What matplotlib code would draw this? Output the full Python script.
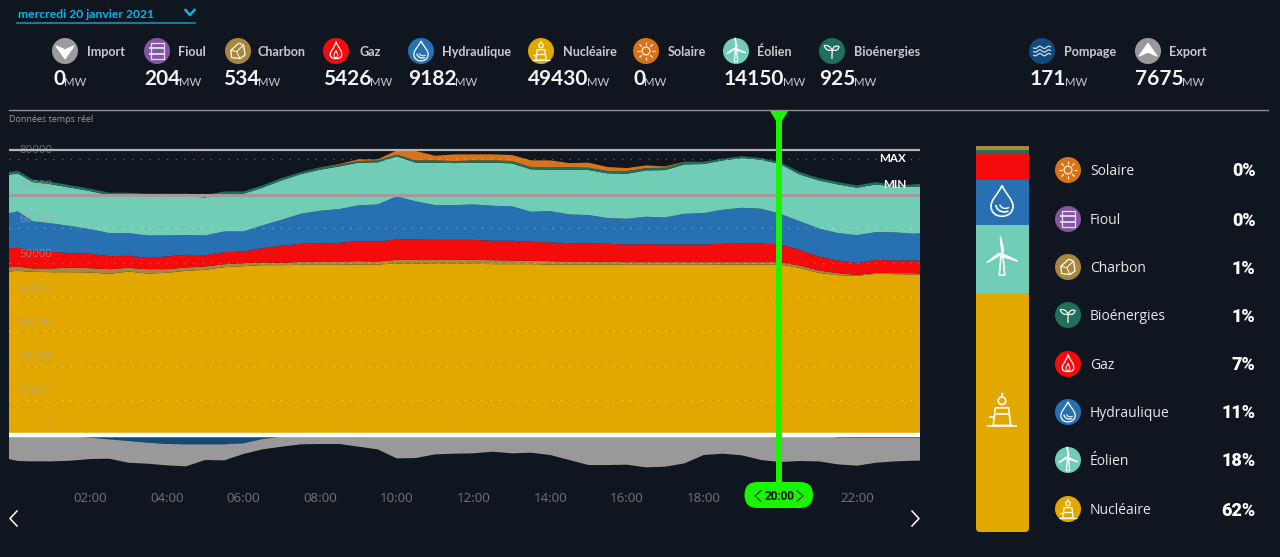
import numpy as np
import matplotlib
matplotlib.use("Agg")
import matplotlib.pyplot as plt
from matplotlib.patches import Circle, FancyBboxPatch, Polygon, PathPatch
from matplotlib.path import Path
from matplotlib.transforms import ScaledTranslation

hours = [-0.112, 0.12] + [0.5*k for k in range(1, 48)] + [23.643]

nuclear = [47380,47580,47290,47190,47190,47090,46710,47380,46800,47000,47580,47870,48640,48930,49230,49230,49320,49320,49320,49420,49420,49710,49710,49610,49610,
           49610,49520,49520,49520,49420,49420,49420,49420,49320,49320,49320,49320,49320,49420,49420,49420,49420,48450,47000,46320,46120,46710,46610,46510,46510]
charbon = [1260,1260,970,1070,1360,1260,1360,1070,1260,1070,970,970,870,870,780,680,870,970,970,970,870,1070,1160,1260,1260,
           1160,1160,1070,970,970,870,870,780,780,780,780,780,780,680,680,680,680,680,680,580,290,290,290,390,290]
gaz = [5430,5430,5240,4850,4170,4170,3780,3490,3300,3690,3690,3300,3490,3400,4170,4950,5240,5240,5430,5820,5820,5920,5820,5720,5720,
       5820,5630,5720,5530,5430,5340,5240,5240,5140,5240,5140,5140,5140,5340,5430,5430,5140,4560,4070,3690,3400,3780,3690,3690,3690]
hydraulique = [10280,10570,8540,8250,7860,7180,6690,6600,6500,6110,5720,5720,6010,5820,6600,7570,8730,9510,9800,10380,10770,12510,11060,10090,10090,
               10280,10190,9990,8730,9120,8340,8250,7470,7470,7950,7860,8920,9120,9890,10380,10090,8920,8340,8150,7950,8150,8050,8150,7760,8050]
eolien = [11160,11060,11350,11350,11160,11060,11060,10960,11160,11450,11350,11060,10960,10960,10960,11450,11540,11930,12420,12420,12220,11640,11250,12320,12220,
          12130,12510,12510,12320,12030,13000,13100,13000,13100,13480,13770,14360,14260,14360,14450,14260,14450,13580,13970,14160,13770,13870,13190,13680,13580]
bioenergies = [780,780,680,680,680,680,680,780,970,680,680,680,680,680,680,680,580,580,490,490,580,490,680,680,580,
               680,680,680,680,680,770,680,680,770,680,680,680,680,490,580,490,580,680,680,680,680,680,490,680,780]
solaire = [0,0,0,0,0,0,0,0,0,0,0,0,0,0,0,0,0,100,190,490,290,1260,2720,1360,1940,
           1750,1750,1750,1940,2040,1160,1460,1160,870,780,390,100,0,0,0,0,0,0,0,0,0,0,0,0,0]
pompage = [0,0,0,0,440,920,1410,1890,2380,2760,2860,2860,2860,2570,1310,630,0,0,0,0,0,0,0,0,0,
           0,0,0,0,0,0,0,0,0,0,0,0,0,0,0,0,0,0,0,900,1000,1000,1000,1000,1000]
export = [7130,7710,7810,7810,7170,6210,5620,6310,6110,6210,6400,4560,4660,3100,3010,2910,2860,2760,2760,3540,4320,6940,6840,5770,5580,
          5480,5000,5480,5290,5970,7420,8880,8880,8780,9550,9360,8390,5970,5580,6060,7420,8000,7710,7810,7780,8070,7200,6810,6610,6610]

y_ticks = [0,10000,20000,30000,40000,50000,60000,70000,80000]
x_ticks = [2,4,6,8,10,12,14,16,18,22]
x_labels = ["02:00","04:00","06:00","08:00","10:00","12:00","14:00","16:00","18:00","22:00"]
max_level, min_level = 82700, 69700

head_names = ["Import","Fioul","Charbon","Gaz","Hydraulique","Nucléaire","Solaire","Éolien","Bioénergies","Pompage","Export"]
head_values = [0,204,534,5426,9182,49430,0,14150,925,171,7675]
legend_names = ["Solaire","Fioul","Charbon","Bioénergies","Gaz","Hydraulique","Éolien","Nucléaire"]
legend_pcts = ["0%","0%","1%","1%","7%","11%","18%","62%"]

BG = "#10161f"
C = dict(Import="#9b9b9b", Fioul="#8356a2", Charbon="#a8873c", Gaz="#f40b0b", Hydraulique="#2771b3",
         Nucléaire="#e3a800", Solaire="#d9731a", Éolien="#72cdb7", Bioénergies="#1f6f5b",
         Pompage="#114a7b", Export="#999999")
KIND = dict(Import="down", Fioul="barrel", Charbon="rock", Gaz="flame", Hydraulique="drop", Nucléaire="nuke",
            Solaire="sun", Éolien="turbine", Bioénergies="leaf", Pompage="waves", Export="up")

W, H = 1280, 557
fig = plt.figure(figsize=(W/100, H/100), dpi=100, facecolor=BG)
plt.rcParams["font.family"] = ["Open Sans", "DejaVu Sans"]

# main chart
top, bottom = 140, 478
ax = fig.add_axes([9/W, 1-bottom/H, 911/W, (bottom-top)/H], facecolor=BG)
ax.set_xlim(hours[0], hours[-1])
k = 290.7
ax.set_ylim((434.5-bottom)*k, (434.5-top)*k)
ax.stackplot(hours, nuclear, charbon, gaz, hydraulique, eolien, bioenergies, solaire,
             colors=[C["Nucléaire"],C["Charbon"],C["Gaz"],C["Hydraulique"],C["Éolien"],C["Bioénergies"],C["Solaire"]], linewidth=0)
ax.stackplot(hours, -np.array(pompage), -np.array(export), colors=[C["Pompage"],C["Export"]], linewidth=0)
for s in ax.spines.values():
    s.set_visible(False)
ax.set_axisbelow(False)
ax.set_yticks(y_ticks)
ax.set_yticklabels([str(v) for v in y_ticks], color="#a8a8a8", alpha=0.6, fontsize=8.2, va="bottom")
ax.tick_params(axis="y", length=0, pad=-31)
shift = ScaledTranslation(0, 0.03, fig.dpi_scale_trans)
for lab in ax.get_yticklabels():
    lab.set_transform(lab.get_transform() + shift)
ax.set_xticks(x_ticks)
ax.set_xticklabels(x_labels, color="#70757a", fontsize=9.6)
ax.tick_params(axis="x", length=0, pad=10)
ax.grid(axis="y", color="white", alpha=0.35, linewidth=0.9, linestyle=(0, (1, 6)))
ax.axhline(max_level, color="#b4b4b4", lw=1.6, zorder=4)
ax.axhline(min_level, color="#a39a9c", lw=2.2, zorder=4)
ax.axhline(0, color="white", lw=3.2, zorder=4)

# overlay in pixel coordinates
ov = fig.add_axes([0, 0, 1, 1], facecolor="none", zorder=10)
ov.set_xlim(0, W); ov.set_ylim(H, 0); ov.axis("off")

def curve(cx, cy, pts, s, lw=1.0, closed=False, color="white", fill=False):
    xy = [(cx+p[0]*s, cy+p[1]*s) for p in pts]
    ov.add_patch(Polygon(xy, closed=closed, fill=fill, facecolor=color if fill else "none",
                         edgecolor=color, lw=lw, joinstyle="round", zorder=6))

def bez(cx, cy, verts, codes, s, lw=1.0):
    v = [(cx+p[0]*s, cy+p[1]*s) for p in verts]
    ov.add_patch(PathPatch(Path(v, codes), fill=False, edgecolor="white", lw=lw, zorder=6))

M, C4, L = Path.MOVETO, Path.CURVE4, Path.LINETO

def glyph(cx, cy, kind, s, lw=1.0):
    if kind == "down":
        curve(cx, cy, [(-.68,-.38),(0,-.08),(.68,-.38),(0,.58)], s, closed=True, fill=True)
    elif kind == "up":
        curve(cx, cy, [(-.68,.38),(0,.08),(.68,.38),(0,-.58)], s, closed=True, fill=True)
    elif kind == "barrel":
        curve(cx, cy, [(-.5,-.62),(.5,-.62),(.5,.62),(-.5,.62)], s, lw=lw, closed=True, color="#e8dff0")
        for yy in (-.22, .22):
            curve(cx, cy, [(-.62,yy),(.62,yy)], s, lw=lw+.4, color="#e8dff0")
    elif kind == "rock":
        curve(cx, cy, [(-.55,-.05),(.05,-.6),(.42,-.45),(.55,.3),(.15,.58),(-.5,.5)], s, lw=lw, closed=True)
        curve(cx, cy, [(-.55,-.05),(-.1,.05),(.42,-.45)], s, lw=lw*.8)
        curve(cx, cy, [(-.1,.05),(.15,.58)], s, lw=lw*.8)
    elif kind == "flame":
        bez(cx, cy, [(0,-.72),(.15,-.25),(.55,0),(.42,.4),(.33,.65),(-.33,.65),(-.42,.4),(-.55,.05),(-.1,-.2),(0,-.72)],
            [M,C4,C4,C4,C4,C4,C4,C4,C4,C4], s, lw)
        bez(cx, cy, [(0,-.05),(.05,.15),(.2,.25),(.12,.42),(.05,.55),(-.12,.52),(-.15,.38),(-.2,.2),(-.03,.1),(0,-.05)],
            [M,C4,C4,C4,C4,C4,C4,C4,C4,C4], s, lw*.8)
    elif kind == "drop":
        bez(cx, cy, [(0,-.78),(.18,-.35),(.58,-.05),(.55,.3),(.5,.92),(-.5,.92),(-.55,.3),(-.58,-.05),(-.18,-.35),(0,-.78)],
            [M,C4,C4,C4,C4,C4,C4,C4,C4,C4], s, lw)
        bez(cx, cy, [(-.32,.2),(-.25,.5),(.05,.62),(.32,.5)], [M,C4,C4,C4], s, lw)
        bez(cx, cy, [(-.12,.18),(-.02,.38),(.15,.42),(.36,.32)], [M,C4,C4,C4], s, lw*.8)
    elif kind == "nuke":
        curve(cx, cy, [(-.3,-.1),(.3,-.1),(.4,.7),(-.4,.7)], s, lw=lw, closed=True)
        curve(cx, cy, [(-.6,.3),(-.3,.3)], s, lw=lw)
        curve(cx, cy, [(-.7,.72),(.7,.72)], s, lw=lw)
        curve(cx, cy, [(-.28,.2),(.32,.2)], s, lw=lw)
        ov.add_patch(Circle((cx, cy-.42*s), .17*s, fill=False, edgecolor="white", lw=lw, zorder=6))
        curve(cx, cy, [(0,-.59),(.02,-.78)], s, lw=lw)
    elif kind == "sun":
        ov.add_patch(Circle((cx, cy), .3*s, fill=False, edgecolor="#fff2e0", lw=lw, zorder=6))
        for a in np.arange(8)*np.pi/4:
            curve(cx, cy, [(.45*np.cos(a),.45*np.sin(a)),(.72*np.cos(a),.72*np.sin(a))], s, lw=lw, color="#fff2e0")
    elif kind == "turbine":
        curve(cx, cy, [(-.05,-.08),(-.13,.82),(.13,.82),(.05,-.08)], s, lw=lw, closed=True)
        for a in (-95, 25, 150):
            r = np.deg2rad(a)
            curve(cx, cy, [(0,-.2),(.18*np.cos(r+.5),-.2+.18*np.sin(r+.5)),(.8*np.cos(r),-.2+.8*np.sin(r))], s, lw=lw, closed=True)
    elif kind == "leaf":
        bez(cx, cy, [(0,.6),(0,.2),(0,.0),(.05,-.1)], [M,C4,C4,C4], s, lw)
        bez(cx, cy, [(0,-.05),(-.1,-.4),(-.4,-.45),(-.6,-.42)], [M,C4,C4,C4], s, lw)
        bez(cx, cy, [(-.6,-.42),(-.55,-.15),(-.3,.0),(0,-.05)], [M,C4,C4,C4], s, lw)
        bez(cx, cy, [(.05,-.1),(.1,-.4),(.35,-.4),(.55,-.35)], [M,C4,C4,C4], s, lw)
        bez(cx, cy, [(.55,-.35),(.5,-.1),(.3,.05),(.05,-.1)], [M,C4,C4,C4], s, lw)
    elif kind == "waves":
        t = np.linspace(-.68, .68, 30)
        for yy in (-.28, 0, .28):
            curve(cx, cy, list(zip(t, yy+.09*np.sin(t*9))), s, lw=lw, color="#cfe0ee")

# top bar
ov.text(18, 14.5, "mercredi 20 janvier 2021", color="#0ab4ea", fontsize=8.7, fontweight="bold", va="center", family="Lato")
ov.plot([17, 195], [23, 23], color="#168fbb", lw=1.2)
ov.plot([185.5, 190, 194.5], [10, 15, 10], color="#0ab4ea", lw=1.8)
ov.plot([9, 1268], [110.3, 110.3], color="#8a8f93", lw=1)
ov.text(9, 120, "Données temps réel", color="#9a9a9a", fontsize=6.5, va="center")

icon_x = [65,157,238,336,421,541,646,736,832,1042,1148]
label_x = [87,178,258,359,442,563,668,757,854,1064,1169]
value_x = [53,144,223,323,408,528,633,724,819,1030,1135]
for n, v, ix, lx, vx in zip(head_names, head_values, icon_x, label_x, value_x):
    ov.add_patch(Circle((ix, 51), 13, color=C[n], zorder=5, lw=0))
    glyph(ix, 51, KIND[n], 13, .9)
    ov.text(lx, 51.5, n, color="#c8cacc", fontsize=9.1, fontweight="bold", va="center", family="Lato")
    t = ov.text(vx, 85, str(v), color="#f4f4f4", fontsize=15, fontweight="bold", va="baseline", family="Lato")
    ov.annotate("MW", xy=(1, 0), xycoords=t, xytext=(-1, 1), textcoords="offset points",
                color="#c8cacc", fontsize=8.2, va="bottom", family="Lato")

# labels inside chart
ov.text(906, 159, "MAX", color="white", fontsize=8.4, fontweight="bold", ha="right", va="center", zorder=6, family="Lato")
ov.text(906, 185, "MIN", color="white", fontsize=8.4, fontweight="bold", ha="right", va="center", zorder=6, family="Lato")

# cursor
GREEN = "#19f500"
ov.plot([779, 779], [112, 490], color=GREEN, lw=4.3, solid_capstyle="butt", zorder=7)
ov.add_patch(Polygon([(770, 111), (788, 111), (779, 126)], color=GREEN, zorder=7, lw=0))
ov.add_patch(FancyBboxPatch((744.5, 482), 68.5, 26, boxstyle="round,pad=0,rounding_size=13", color=GREEN, zorder=7, lw=0))
ov.text(779, 496, "20:00", color="#0b1a10", fontsize=8.5, fontweight="bold", ha="center", va="center", zorder=8)
ov.plot([761, 755, 761], [490.5, 496, 501.5], color="#0b1a10", lw=.7, zorder=8)
ov.plot([797, 803, 797], [490.5, 496, 501.5], color="#0b1a10", lw=.7, zorder=8)

# nav arrows
ov.plot([17, 10, 17], [511, 518.5, 526], color="white", lw=1.1)
ov.plot([912, 919, 912], [511, 518.5, 526], color="white", lw=1.1)

# right stacked bar
bar_series = [head_values[5], head_values[7], head_values[4], head_values[3], head_values[8], head_values[2], head_values[1]]
bar_colors = [C["Nucléaire"], C["Éolien"], C["Hydraulique"], C["Gaz"], C["Bioénergies"], C["Charbon"], C["Charbon"]]
bx = fig.add_axes([976/W, 1-532/H, 53/W, 386/H], facecolor="none", zorder=5)
bx.set_xlim(0, 1); bx.set_ylim(0, sum(bar_series)); bx.axis("off")
clip = FancyBboxPatch((976, 100), 53, 432, boxstyle="round,pad=0,rounding_size=4", transform=ov.transData, fc="none", ec="none")
ov.add_patch(clip)
b = 0
for v, col in zip(bar_series, bar_colors):
    r = bx.bar(0.5, v, width=1, bottom=b, color=col, linewidth=0)
    r[0].set_clip_path(clip)
    b += v
glyph(1002, 201, "drop", 20, 1.2)
glyph(1002, 258, "turbine", 21, 1.2)
glyph(1002, 410, "nuke", 22, 1.2)

leg_y = [170,219,267,315,364,412,460,509]
for n, p, y in zip(legend_names, legend_pcts, leg_y):
    ov.add_patch(Circle((1068, y), 13, color=C[n], zorder=5, lw=0))
    glyph(1068, y, KIND[n], 13, .9)
    ov.text(1090, y+1.5, n, color="#e8e8e8", fontsize=10, va="center")
    ov.text(1255.5, y+1.5, p, color="white", fontsize=13, fontweight=900, ha="right", va="center", family="Roboto")

fig.savefig("out.png", dpi=100, facecolor=BG)
